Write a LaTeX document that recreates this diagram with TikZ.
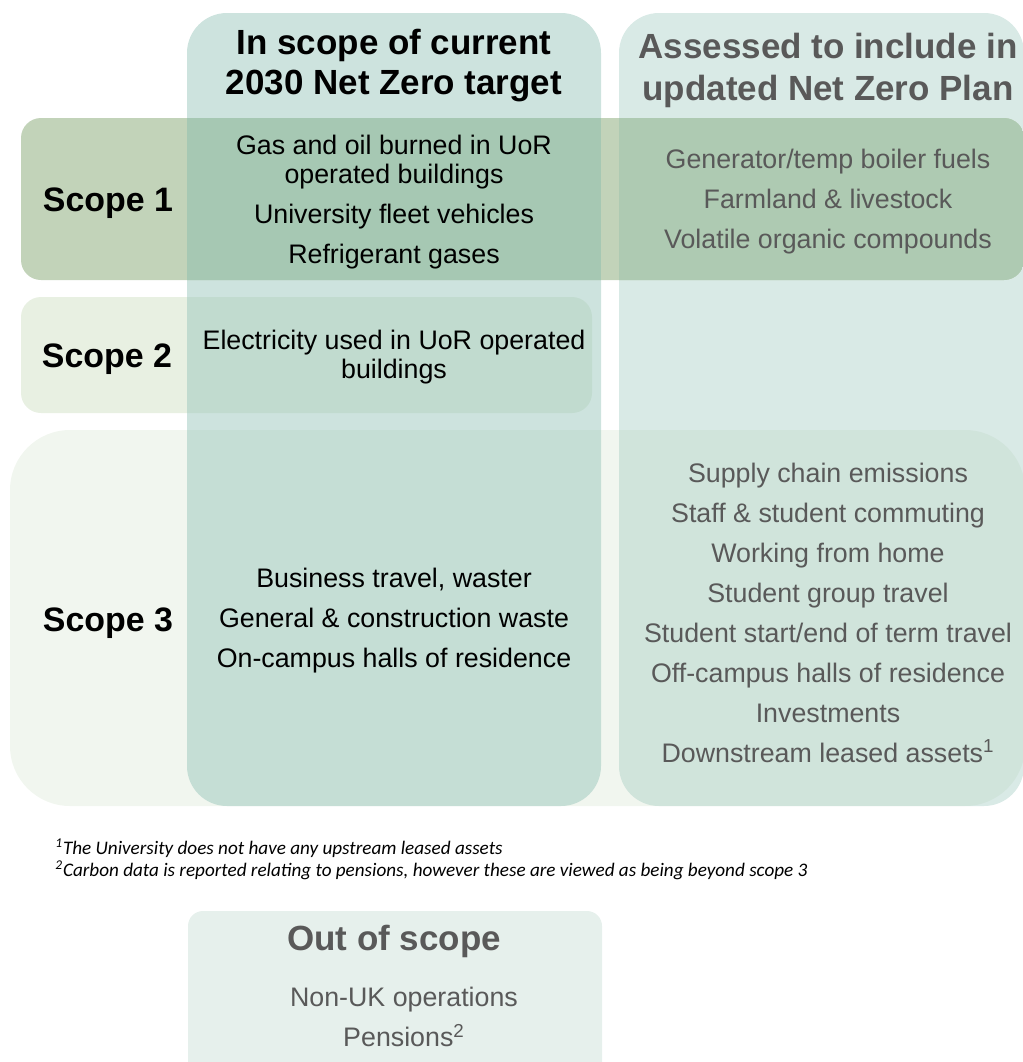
\documentclass[tikz,border=0pt]{standalone}
\usepackage{fontspec}
\setmainfont{Liberation Sans}
\newfontfamily\notefont{Carlito}
\usepackage{tikz}

\definecolor{colbase}{HTML}{9BC7BD}
\definecolor{scopeone}{HTML}{C2D3B9}
\definecolor{scopeoneA}{HTML}{A6C8B3}
\definecolor{scopeoneB}{HTML}{AECAB2}
\definecolor{scopetwo}{HTML}{E8F0E2}
\definecolor{scopethree}{HTML}{F1F6EF}
\definecolor{outbox}{HTML}{E6F0EC}
\definecolor{greytext}{HTML}{595959}

\begin{document}
\begin{tikzpicture}[%
    x=0.02cm, y=-0.02cm,
    head/.style={align=center, inner sep=0pt, font=\bfseries\fontsize{19.9}{22.76}\selectfont},
    scopelabel/.style={inner sep=0pt, font=\bfseries\fontsize{19.3}{22}\selectfont},
    item/.style={align=center, inner sep=0pt, font=\fontsize{15.25}{22.76}\selectfont},
    note/.style={anchor=west, inner sep=0pt, font=\notefont\itshape\fontsize{10.9}{13}\selectfont},
  ]
    \clip (0,0) rectangle (1023,1062);

    % scope bands underneath
    \fill[scopethree, rounded corners=1.2cm] (10,430) rectangle (1025,806);
    \fill[scopetwo, rounded corners=0.4cm] (21,297) rectangle (592,413);

    % the two columns
    \fill[colbase, fill opacity=0.5, rounded corners=0.8cm] (187,13) rectangle (601,806);
    \fill[colbase, fill opacity=0.38, rounded corners=0.8cm] (619,13) rectangle (1024,806);

    % scope 1 band lies over the columns
    \begin{scope}
      \clip[rounded corners=0.4cm] (21,118) rectangle (1024,280);
      \fill[scopeone] (0,100) rectangle (1030,300);
      \fill[scopeoneA] (187,100) rectangle (601,300);
      \fill[scopeoneB] (619,100) rectangle (1030,300);
    \end{scope}

    \fill[outbox, rounded corners=0.3cm] (188,911) rectangle (602,1090);

    \node[head] (inhead) at (394,66) {In scope of current\\2030 Net Zero target};
    \node[head, text=greytext, font=\bfseries\fontsize{19.9}{23.9}\selectfont]
      (ashead) at (828,70.5) {Assessed to include in\\updated Net Zero Plan};

    \node[scopelabel] (s1) at (108,203) {Scope 1};
    \node[scopelabel] (s2) at (107,359) {Scope 2};
    \node[scopelabel] (s3) at (108,623) {Scope 3};

    \node[item] (in1) at (394,202.5)
      {Gas and oil burned in UoR\\[-6.3pt]operated buildings\\University fleet vehicles\\Refrigerant gases};
    \node[item] (in2) at (394,357)
      {Electricity used in UoR operated\\[-6.3pt]buildings};
    \node[item] (in3) at (394,621)
      {Business travel, waster\\General \& construction waste\\On-campus halls of residence};

    \node[item, text=greytext] (as1) at (828,202)
      {Generator/temp boiler fuels\\Farmland \& livestock\\Volatile organic compounds};
    \node[item, text=greytext] (as3) at (828,612.5)
      {Supply chain emissions\\Staff \& student commuting\\Working from home\\Student group travel\\
       Student start/end of term travel\\Off-campus halls of residence\\Investments\\
       Downstream leased assets\textsuperscript{1}};

    \node[note] (fn1) at (55,848) {\textsuperscript{1}The University does not have any upstream leased assets};
    \node[note] (fn2) at (55,870) {\textsuperscript{2}Carbon data is reported relating to pensions, however these are viewed as being beyond scope 3};

    \node[head, text=greytext] (outhead) at (394,941) {Out of scope};
    \node[item, text=greytext] (out) at (404,1017) {Non-UK operations\\Pensions\textsuperscript{2}};
  \end{tikzpicture}
\end{document}
